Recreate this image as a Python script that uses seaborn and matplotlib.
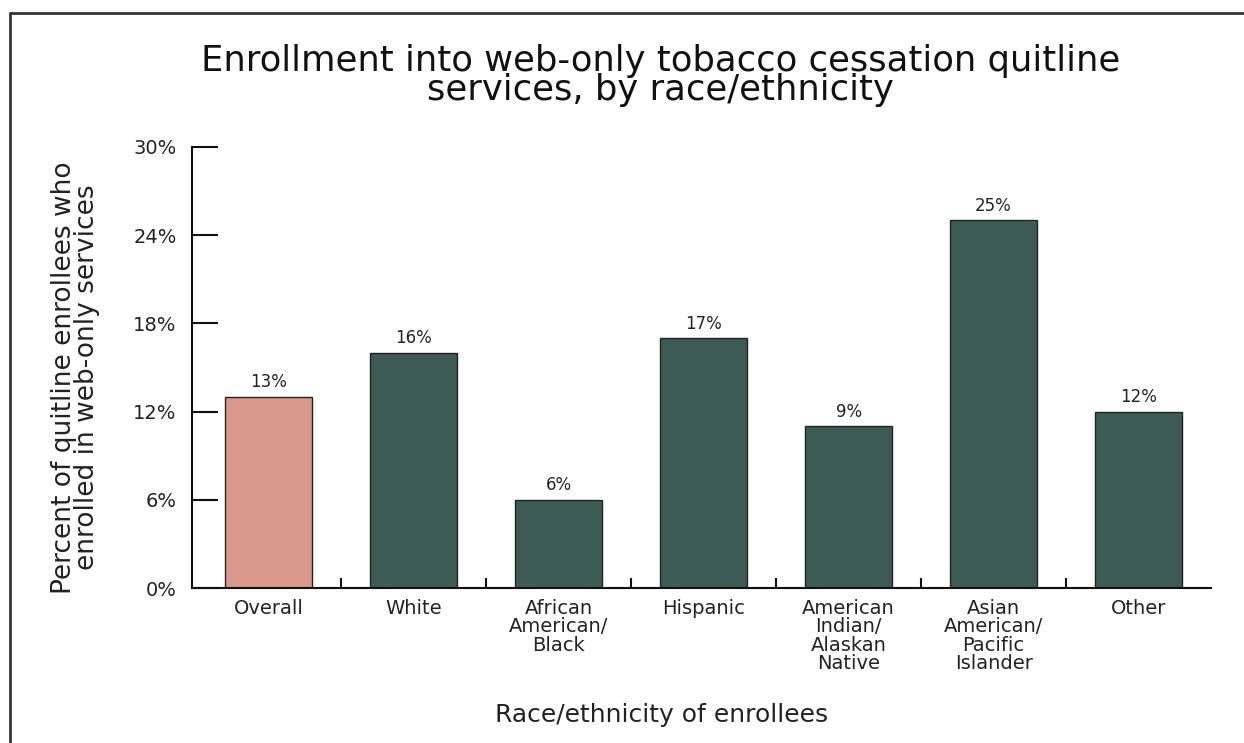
import matplotlib
matplotlib.use("Agg")
import matplotlib.pyplot as plt
from matplotlib.lines import Line2D
from matplotlib.ticker import FixedLocator
import seaborn as sns

# --- data ---
categories = ["Overall", "White", "African\nAmerican/\nBlack", "Hispanic",
              "American\nIndian/\nAlaskan\nNative", "Asian\nAmerican/\nPacific\nIslander",
              "Other"]
values = [13, 16, 6, 17, 11, 25, 12]
value_labels = ["13%", "16%", "6%", "17%", "9%", "25%", "12%"]
y_ticks = [0, 6, 12, 18, 24, 30]
y_tick_labels = ["0%", "6%", "12%", "18%", "24%", "30%"]

bar_colors = ["#d8998b"] + ["#3d5a54"] * 6
text_color = "#222222"

sns.set_theme(style="white")
plt.rcParams["font.family"] = ["DejaVu Sans"]

fig = plt.figure(figsize=(12.44, 7.43), dpi=100)
ax = fig.add_axes([0.1543, 0.2086, 0.8192, 0.5936])

sns.barplot(x=categories, y=values, hue=categories, palette=bar_colors,
            legend=False, width=0.6, edgecolor="#222222", linewidth=1.0,
            saturation=1, ax=ax)

# value labels above each bar
for cont, lab in zip(ax.containers, value_labels):
    ax.bar_label(cont, labels=[lab], padding=4, fontsize=12, color=text_color)

ax.set_ylim(0, 30)
ax.set_xlim(-0.53, 6.5)
ax.set_yticks(y_ticks)
ax.set_yticklabels(y_tick_labels, fontsize=14, color=text_color)
ax.tick_params(axis="y", direction="in", length=19, width=1.5, color="#111111",
               pad=11, left=True)
ax.tick_params(axis="x", which="major", length=0, pad=8, labelsize=14,
               labelcolor=text_color)
for lbl in ax.get_xticklabels():
    lbl.set_linespacing(0.95)
ax.xaxis.set_minor_locator(FixedLocator([0.5 + i for i in range(6)]))
ax.tick_params(axis="x", which="minor", direction="in", length=7, width=1.5,
               color="#111111", bottom=True)

sns.despine(ax=ax)
for s in ["left", "bottom"]:
    ax.spines[s].set_linewidth(1.5)
    ax.spines[s].set_color("#111111")

ax.set_ylabel("Percent of quitline enrollees who\nenrolled in web-only services",
              fontsize=19, color=text_color, linespacing=0.85)
ax.yaxis.set_label_coords(-0.09, 0.478)
ax.set_xlabel("Race/ethnicity of enrollees", fontsize=18, color=text_color)
ax.xaxis.set_label_coords(0.461, -0.26)

fig.text(0.531, 0.941, "Enrollment into web-only tobacco cessation quitline\nservices, by race/ethnicity",
         ha="center", va="top", fontsize=25.5, color="#111111", linespacing=0.82)

# partial frame around the figure (top and left edges)
fig.add_artist(Line2D([0.008, 1.0], [0.982, 0.982], color="#333333", lw=2,
                      transform=fig.transFigure))
fig.add_artist(Line2D([0.008, 0.008], [0.0, 0.982], color="#333333", lw=2,
                      transform=fig.transFigure))

fig.savefig("out.png", dpi=100)
